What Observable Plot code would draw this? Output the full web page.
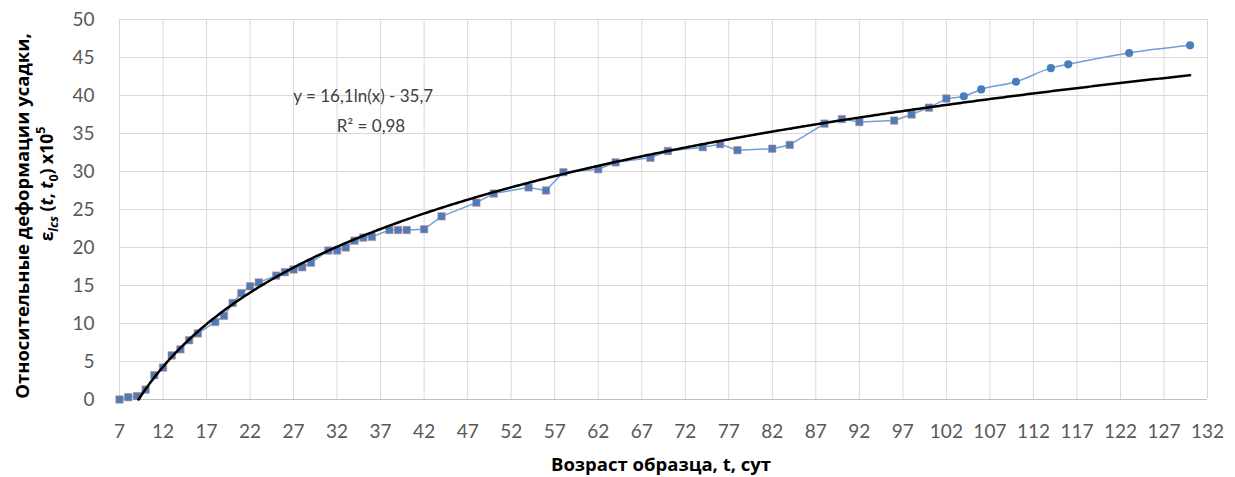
<!DOCTYPE html>
<html><head><meta charset="utf-8">
<script src="https://cdn.jsdelivr.net/npm/d3@7"></script>
<script src="https://cdn.jsdelivr.net/npm/@observablehq/plot@0.6"></script>
<style>
body{margin:0;background:#fff;}
#chart{width:1235px;height:477px;}
</style></head><body><div id="chart"></div>
<script>
// Measured series (square markers), age in days and shrinkage strain x10^5
const daysSq = [7,8,9,10,11,12,13,14,15,16,18,19,20,21,22,23,25,26,27,28,29,31,32,33,34,35,36,38,39,40,42,44,48,50,54,56,58,62,64,68,70,74,76,78,82,84,88,90,92,96,98,100,102];
const strainSq = [0,0.3,0.45,1.3,3.2,4.2,5.8,6.6,7.8,8.7,10.2,11.0,12.7,14.0,14.9,15.4,16.3,16.75,17.1,17.4,18.0,19.6,19.6,20.0,20.9,21.3,21.4,22.3,22.3,22.3,22.4,24.1,25.9,27.1,27.9,27.5,29.9,30.3,31.2,31.8,32.7,33.2,33.6,32.8,33.0,33.5,36.3,36.9,36.5,36.7,37.5,38.4,39.6];
// Continuation series (round markers)
const daysCirc = [102,104,106,110,114,116,123,130];
const strainCirc = [39.6,39.9,40.8,41.8,43.6,44.1,45.6,46.6];
// Axis ticks
const xTicks = [7,12,17,22,27,32,37,42,47,52,57,62,67,72,77,82,87,92,97,102,107,112,117,122,127,132];
const yTicks = [0,5,10,15,20,25,30,35,40,45,50];
// Logarithmic trendline y = a ln(x) + b
const trendA = 16.1, trendB = -35.7, trendEnd = 130;
const trendLabel = "y = 16,1ln(x) - 35,7";
const r2Label = "R² = 0,98";

const sq = daysSq.map((d,i)=>({t:d, e:strainSq[i]}));
const circ = daysCirc.map((d,i)=>({t:d, e:strainCirc[i]}));
const tStart = Math.exp(-trendB/trendA);
const trend = d3.range(tStart, trendEnd, 0.25).concat([trendEnd]).map(t=>({t, e: trendA*Math.log(t)+trendB}));

const plot = Plot.plot({
  width:1235, height:477,
  marginLeft:119, marginRight:28, marginTop:19, marginBottom:78,
  style:{fontFamily:"Lato, 'Open Sans', sans-serif", fontSize:"19px", color:"#595959", background:"#fff"},
  x:{domain:[7,132], ticks:xTicks, tickSize:0, tickPadding:25, label:null, tickFormat:d=>String(d)},
  y:{domain:[0,50], ticks:yTicks, tickSize:0, tickPadding:25, label:null, tickFormat:d=>String(d)},
  marks:[
    Plot.gridX(xTicks,{stroke:"#d9d9d9", strokeOpacity:1}),
    Plot.gridY(yTicks,{stroke:"#d9d9d9", strokeOpacity:1}),
    Plot.ruleY([0],{stroke:"#bfbfbf"}),
    Plot.line(sq,{x:"t", y:"e", stroke:"#6f9fd8", strokeWidth:1.5}),
    Plot.line(circ,{x:"t", y:"e", curve:"monotone-x", stroke:"#6f9fd8", strokeWidth:1.5}),
    Plot.dot(sq,{x:"t", y:"e", symbol:"square", r:4.2, fill:"#4a7ebb", stroke:"#d48a8a", strokeWidth:0.6}),
    Plot.dot(circ.slice(1),{x:"t", y:"e", r:3.3, fill:"#4a7ebb", stroke:"#4a7ebb"}),
    Plot.line(trend,{x:"t", y:"e", stroke:"#000", strokeWidth:2.5}),
    Plot.text([trendLabel],{x:35, y:39.9, text:d=>d, fontSize:17, fill:"#404040", textAnchor:"middle"}),
    Plot.text([r2Label],{x:35.9, y:35.9, text:d=>d, fontSize:17, fill:"#404040", textAnchor:"middle"})
  ]
});
document.getElementById("chart").appendChild(plot);

const svg = d3.select(plot);
const titleFont = "'Open Sans', Lato, sans-serif";
// X axis title
svg.append("text").attr("x",661).attr("y",471).attr("text-anchor","middle")
  .attr("font-family",titleFont).attr("font-weight","bold").attr("font-size",18.5).attr("fill","#000")
  .text("Возраст образца, t, сут");
// Y axis title line 1
svg.append("text").attr("transform","translate(29,216) rotate(-90)").attr("text-anchor","middle")
  .attr("font-family",titleFont).attr("font-weight","bold").attr("font-size",18.5).attr("fill","#000")
  .text("Относительные деформации усадки,");
// Y axis title line 2
const t2 = svg.append("text").attr("transform","translate(53,184) rotate(-90)").attr("text-anchor","middle")
  .attr("font-family",titleFont).attr("font-weight","bold").attr("font-size",17.5).attr("fill","#000");
t2.append("tspan").text("ε");
t2.append("tspan").attr("font-style","italic").attr("font-size",12.5).attr("dy",5).text("lcs");
t2.append("tspan").attr("dy",-5).text(" (");
t2.append("tspan").attr("font-style","italic").text("t");
t2.append("tspan").text(", ");
t2.append("tspan").attr("font-style","italic").text("t");
t2.append("tspan").attr("font-size",12.5).attr("dy",5).text("0");
t2.append("tspan").attr("dy",-5).text(") x10");
t2.append("tspan").attr("font-size",12.5).attr("dy",-8).text("5");
</script>
</body></html>
